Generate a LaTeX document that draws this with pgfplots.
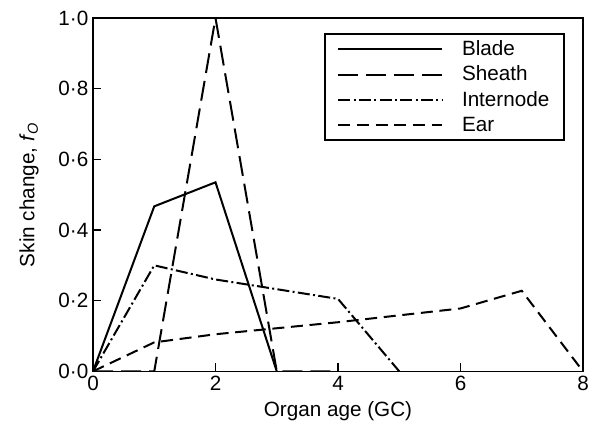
\documentclass[border=0pt]{standalone}
\usepackage{fontspec}
\setmainfont{Liberation Sans}
\usepackage{pgfplots}
\pgfplotsset{compat=1.18}
\begin{document}
\begin{tikzpicture}
\begin{axis}[
  scale only axis,
  width=367.5pt, height=265pt,
  xmin=0, xmax=8, ymin=0, ymax=1,
  xtick={0,2,4,6,8},
  xticklabels={0,2,4,6,8},
  ytick={0,0.2,0.4,0.6,0.8,1.0},
  yticklabels={0·0,0·2,0·4,0·6,0·8,1·0},
  /pgf/number format/assume math mode=true,
  tick align=inside,
  xtick pos=bottom, ytick pos=left,
  major tick length=6pt,
  axis line style={line width=0.8pt},
  every tick/.style={line width=0.8pt, black},
  tick label style={font=\fontsize{15.5}{18}\selectfont},
  xlabel={Organ age (GC)},
  ylabel={Skin change, \textit{f}\textsubscript{\textit{O}}},
  label style={font=\fontsize{15.5}{18}\selectfont},
  xlabel style={yshift=-1pt},
  ylabel style={yshift=8pt},
  legend style={at={(0.963,0.958)}, anchor=north east, draw=black, line width=1.3pt,
    font=\fontsize{15.5}{18}\selectfont, row sep=2.5pt, column sep=12pt,
    inner xsep=9pt, inner ysep=3pt},
  legend cell align=left,
  legend image code/.code={\draw[#1, line width=1.5pt] (0pt,0pt) -- (78pt,0pt);},
  every axis plot/.append style={line width=1.5pt, black, mark=none},
]
\addplot[solid] coordinates {(0,0) (1,0.467) (2,0.535) (3,0)};
\addlegendentry{Blade}
\addplot[dash pattern=on 15pt off 6pt] coordinates {(0,0) (1,0) (2,1.0) (3,0) (4,0)};
\addlegendentry{Sheath}
\addplot[dash pattern=on 9pt off 2.5pt on 1.5pt off 2.5pt] coordinates {(0,0) (1,0.30) (2,0.26) (4,0.205) (5,0)};
\addlegendentry{Internode}
\addplot[dash pattern=on 9pt off 5pt] coordinates {(0,0) (1,0.082) (2,0.105) (4,0.139) (6,0.178) (7,0.228) (8,0.0)};
\addlegendentry{Ear}
\end{axis}
\pgfresetboundingbox
\path ([shift={(-69.75pt,-43.5pt)}]current axis.south west) rectangle ([shift={(7.5pt,13.5pt)}]current axis.north east);
\end{tikzpicture}
\end{document}
